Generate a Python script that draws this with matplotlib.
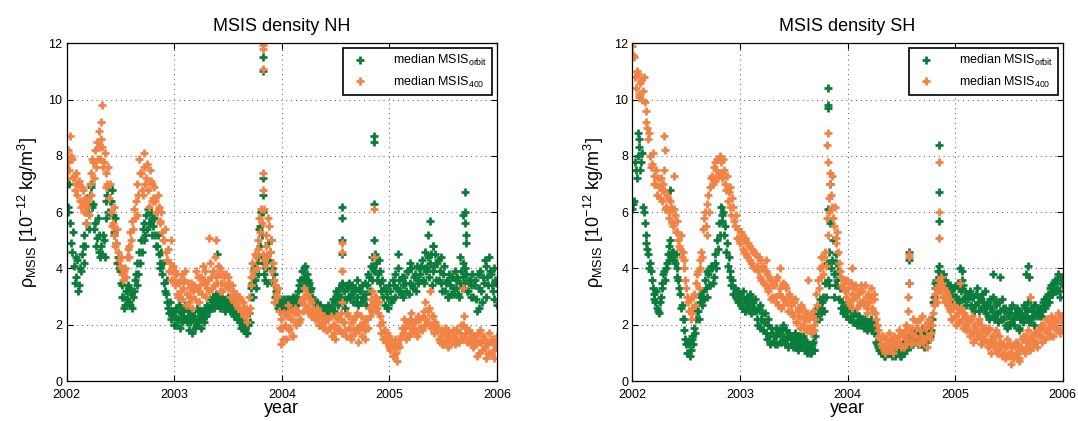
import numpy as np
import matplotlib
matplotlib.use("Agg")
import matplotlib.pyplot as plt

plt.rcParams['font.family'] = ['Liberation Sans', 'DejaVu Sans']
plt.rcParams['mathtext.default'] = 'regular'

# sampling: two readings per 6-day window from 1 Jan 2002 (set a at day 0, set b at day 3)
sample_days = np.arange(0, 1461, 6)
years_a = 2002 + sample_days / 365.25
years_b = 2002 + (sample_days + 3) / 365.25

# ---- NH, median MSIS at orbit (green) ----
nh_orbit_a = [
    7.8, 6.2, 5.6, 4.6, 4.1, 3.7, 4.3, 3.4, 3.9, 4.8,
    5.2, 5.6, 6.2, 6.6, 6.9, 6.3, 5.6, 5.1, 4.6, 4.4,
    4.5, 5.0, 5.8, 6.6, 6.9, 6.4, 5.9, 5.3, 4.9, 4.4,
    3.9, 3.4, 3.0, 2.7, 2.9, 3.3, 2.7, 2.6, 3.2, 3.8,
    4.2, 4.6, 5.0, 5.4, 5.6, 5.9, 6.1, 5.6, 5.8, 5.5,
    5.2, 4.8, 4.5, 4.2, 3.8, 3.5, 3.1, 2.8, 2.4, 2.2,
    2.3, 2.0, 2.6, 2.2, 1.9, 2.5, 2.3, 2.7, 2.1, 1.8,
    2.1, 1.7, 2.3, 2.0, 2.5, 2.2, 1.9, 2.4, 2.6, 2.3,
    2.6, 2.9, 2.7, 3.0, 2.8, 3.1, 2.9, 2.7, 3.0, 2.8,
    2.9, 2.8, 2.7, 2.6, 2.5, 2.4, 2.3, 2.2, 2.1, 2.0,
    1.9, 1.8, 1.7, 2.4, 3.0, 3.5, 4.0, 3.3, 4.4, 5.4,
    6.0, 4.2, 3.6, 4.4, 4.9, 4.6, 4.0, 3.4, 3.0, 2.8,
    2.7, 2.8, 2.6, 2.9, 2.7, 2.8, 2.9, 2.7, 3.0, 2.8,
    3.0, 3.2, 3.6, 3.9, 3.7, 4.1, 3.8, 3.5, 3.3, 3.0,
    2.8, 2.6, 2.7, 2.5, 2.6, 2.4, 2.5, 2.6, 2.7, 2.5,
    2.6, 2.8, 2.9, 3.1, 3.3, 3.0, 3.4, 3.2, 2.9, 3.3,
    3.5, 3.1, 2.8, 3.3, 3.0, 2.7, 3.2, 3.4, 2.9, 3.1,
    3.4, 3.7, 4.1, 4.4, 3.9, 4.2, 3.8, 3.5, 3.2, 3.0,
    2.7, 3.0, 2.6, 3.2, 2.9, 3.4, 3.8, 3.3, 3.6, 3.1,
    3.4, 3.7, 3.2, 3.9, 3.5, 4.0, 3.3, 3.8, 4.1, 3.6,
    3.8, 4.3, 3.5, 4.6, 4.0, 3.7, 4.5, 4.8, 4.1, 3.6,
    4.3, 3.9, 3.5, 3.8, 3.2, 3.6, 3.0, 3.4, 3.7, 3.1,
    3.3, 3.7, 3.0, 3.9, 4.2, 3.5, 3.8, 3.2, 3.6, 3.4,
    3.0, 3.6, 2.5, 3.3, 3.9, 2.8, 3.5, 4.1, 3.7, 4.4,
    3.8, 3.2, 2.9, 3.5,
]
nh_orbit_b = [
    6.0, 7.0, 4.9, 5.3, 3.5, 4.4, 3.2, 4.0, 4.5, 4.2,
    4.8, 6.0, 5.4, 7.0, 6.2, 5.4, 4.8, 5.8, 5.2, 4.8,
    5.2, 4.4, 6.4, 6.0, 6.4, 6.8, 5.2, 5.8, 4.2, 4.0,
    3.5, 3.0, 2.6, 3.2, 3.4, 2.8, 3.1, 3.0, 3.6, 3.4,
    3.8, 4.2, 4.6, 5.0, 5.2, 5.4, 5.6, 6.0, 5.2, 5.8,
    4.8, 5.2, 4.0, 4.6, 4.2, 3.2, 3.6, 2.6, 2.8, 2.5,
    2.0, 2.5, 2.2, 2.7, 2.4, 2.1, 2.6, 2.2, 2.5, 2.3,
    2.4, 2.2, 1.9, 2.6, 2.1, 2.5, 2.3, 2.1, 2.3, 2.7,
    2.5, 2.7, 3.0, 2.6, 3.1, 2.7, 2.6, 2.9, 2.7, 2.5,
    2.6, 3.0, 2.5, 2.8, 2.3, 2.6, 2.2, 2.4, 1.9, 2.2,
    2.1, 1.7, 2.0, 2.1, 3.3, 3.0, 3.6, 4.2, 3.8, 4.8,
    5.2, 3.8, 4.0, 3.5, 4.3, 5.0, 3.6, 3.8, 3.2, 2.6,
    2.5, 2.9, 2.7, 2.6, 2.9, 2.6, 2.7, 2.9, 2.6, 2.7,
    2.8, 3.4, 3.3, 3.6, 4.0, 3.5, 3.6, 3.2, 2.9, 2.8,
    2.5, 2.8, 2.4, 2.7, 2.5, 2.6, 2.4, 2.5, 2.4, 2.6,
    2.9, 2.5, 3.2, 2.7, 2.9, 3.5, 2.8, 2.6, 3.4, 3.0,
    3.0, 3.4, 3.2, 2.8, 3.6, 3.3, 2.8, 3.0, 3.5, 2.7,
    3.8, 3.2, 3.6, 4.0, 4.5, 3.6, 4.3, 3.9, 3.6, 3.3,
    3.2, 2.6, 3.4, 2.8, 3.6, 3.0, 3.3, 4.0, 3.2, 3.7,
    3.0, 3.5, 3.9, 3.1, 4.2, 3.4, 3.7, 3.2, 3.5, 4.0,
    4.1, 3.6, 4.0, 3.9, 4.4, 4.2, 3.4, 3.9, 4.5, 4.2,
    3.6, 4.4, 3.2, 4.1, 3.5, 3.0, 3.8, 3.1, 3.3, 3.9,
    3.6, 3.1, 3.5, 3.3, 3.7, 4.0, 3.2, 3.6, 3.0, 3.8,
    3.4, 2.9, 3.8, 2.6, 3.2, 3.7, 4.3, 3.0, 3.4, 3.9,
    3.4, 4.0, 3.6, 2.7,
]

# ---- NH, median MSIS at 400 km (orange) ----
nh_400_a = [
    7.2, 8.2, 8.7, 7.9, 7.3, 7.0, 6.6, 7.1, 6.2, 6.8,
    6.0, 5.6, 6.4, 7.0, 7.4, 7.8, 8.2, 8.5, 8.9, 7.9,
    8.3, 7.8, 7.4, 7.0, 6.5, 6.0, 5.6, 5.2, 4.9, 4.6,
    4.1, 3.8, 3.6, 4.0, 4.4, 4.8, 5.3, 5.7, 6.1, 6.4,
    7.0, 7.9, 7.4, 6.6, 8.1, 7.2, 6.8, 7.5, 7.0, 6.5,
    6.4, 6.0, 6.2, 5.7, 5.3, 5.0, 4.6, 4.3, 3.9, 3.6,
    4.1, 3.4, 3.8, 3.0, 3.6, 2.9, 3.3, 3.9, 3.1, 2.8,
    3.0, 2.6, 3.4, 3.9, 3.2, 2.8, 3.7, 4.1, 3.5, 3.0,
    3.6, 4.2, 3.3, 3.9, 4.4, 3.5, 3.8, 4.0, 3.2, 3.7,
    3.8, 3.3, 3.5, 3.0, 3.2, 2.8, 3.1, 2.6, 2.9, 2.5,
    2.6, 2.3, 2.1, 3.0, 3.7, 4.2, 3.9, 4.4, 5.0, 5.8,
    6.1, 4.5, 4.1, 5.2, 5.8, 4.6, 3.9, 2.8, 3.4, 3.0,
    2.5, 1.3, 1.9, 2.4, 1.5, 2.7, 1.8, 2.2, 1.6, 2.6,
    2.0, 2.5, 2.2, 2.9, 3.3, 2.7, 3.1, 2.4, 2.8, 2.3,
    2.5, 2.2, 2.4, 2.0, 2.3, 1.9, 2.1, 1.8, 2.2, 1.9,
    1.6, 2.0, 1.5, 2.2, 1.8, 2.4, 2.8, 2.1, 1.6, 2.3,
    1.9, 1.5, 2.2, 1.7, 2.4, 1.4, 2.0, 1.6, 2.1, 1.8,
    2.2, 2.6, 2.9, 3.2, 2.7, 3.0, 2.4, 2.0, 1.7, 1.5,
    1.8, 1.4, 1.6, 1.1, 1.3, 0.9, 1.5, 0.7, 1.2, 1.6,
    1.9, 2.2, 1.5, 2.0, 1.7, 2.4, 1.8, 2.1, 1.6, 2.3,
    2.2, 1.8, 2.5, 2.8, 2.1, 2.6, 1.9, 2.3, 1.7, 2.0,
    1.8, 1.4, 1.6, 1.3, 1.9, 1.5, 1.2, 1.7, 1.4, 1.6,
    1.5, 1.8, 1.4, 2.0, 1.6, 2.3, 1.9, 1.5, 1.7, 1.3,
    1.2, 1.6, 0.9, 1.4, 1.8, 1.1, 1.5, 0.8, 1.3, 1.7,
    1.0, 1.4, 0.8, 1.2,
]
nh_400_b = [
    7.8, 7.5, 8.0, 7.2, 6.8, 7.4, 7.0, 6.4, 6.9, 6.3,
    6.5, 6.2, 5.9, 6.6, 7.9, 7.2, 7.6, 7.9, 8.3, 8.6,
    7.6, 8.1, 6.9, 7.6, 7.0, 5.5, 6.2, 4.8, 5.4, 4.3,
    4.4, 4.0, 3.9, 3.7, 4.7, 4.4, 5.0, 5.4, 5.8, 5.9,
    6.6, 7.4, 6.8, 7.6, 7.0, 7.7, 6.2, 7.1, 6.4, 6.9,
    6.0, 6.6, 5.6, 6.0, 5.0, 5.4, 4.3, 4.7, 4.2, 3.9,
    3.6, 3.9, 3.1, 3.5, 3.2, 3.8, 3.6, 2.7, 3.5, 3.3,
    3.5, 3.2, 2.9, 3.3, 3.7, 3.4, 3.1, 3.6, 3.9, 3.3,
    3.2, 3.7, 3.9, 3.4, 3.7, 4.1, 3.2, 3.5, 3.8, 3.4,
    3.4, 3.7, 3.0, 3.4, 2.8, 3.1, 2.7, 3.0, 2.5, 2.8,
    2.3, 2.6, 2.4, 2.6, 3.4, 3.9, 4.5, 4.0, 4.7, 5.3,
    5.6, 4.3, 4.8, 4.4, 5.5, 5.0, 4.2, 3.6, 3.1, 3.3,
    1.9, 2.2, 1.5, 2.0, 2.3, 1.9, 2.5, 1.6, 2.4, 2.1,
    2.4, 2.1, 2.8, 2.5, 3.0, 3.1, 2.6, 2.9, 2.3, 2.6,
    2.2, 2.6, 2.0, 2.4, 2.1, 2.3, 1.8, 2.2, 1.9, 2.3,
    2.0, 1.7, 2.3, 1.9, 2.2, 1.7, 2.1, 1.8, 2.4, 1.9,
    1.6, 2.1, 1.8, 2.3, 1.9, 1.8, 2.3, 2.0, 1.5, 2.2,
    1.9, 2.3, 2.5, 2.8, 3.0, 2.6, 2.8, 2.3, 2.1, 1.8,
    1.4, 1.7, 1.2, 1.5, 0.9, 1.2, 1.0, 1.3, 1.5, 1.9,
    1.7, 1.9, 2.1, 1.6, 2.2, 1.9, 2.1, 1.7, 2.2, 1.9,
    1.9, 2.3, 2.0, 2.2, 2.5, 2.0, 2.3, 2.0, 2.1, 1.8,
    1.5, 1.8, 1.3, 1.7, 1.4, 1.8, 1.6, 1.4, 1.8, 1.3,
    1.8, 1.4, 1.7, 1.5, 2.0, 1.7, 1.4, 1.8, 1.4, 1.6,
    1.5, 1.3, 1.7, 1.0, 1.4, 1.6, 1.2, 1.4, 1.0, 1.4,
    1.5, 1.1, 1.3, 1.6,
]

# ---- SH, median MSIS at orbit (green) ----
sh_orbit_a = [
    6.1, 6.4, 7.5, 8.0, 8.6, 7.8, 6.2, 5.6, 4.9, 4.5,
    4.2, 3.6, 3.1, 2.8, 2.6, 2.4, 3.0, 3.5, 3.9, 4.0,
    4.5, 4.8, 4.4, 4.6, 4.2, 4.0, 3.6, 3.1, 2.7, 2.2,
    1.5, 1.0, 1.3, 1.1, 1.6, 1.9, 2.2, 2.5, 2.8, 3.0,
    3.2, 3.6, 3.0, 3.8, 3.4, 4.0, 3.7, 4.5, 5.0, 5.6,
    6.2, 5.7, 5.2, 4.6, 4.1, 3.7, 3.4, 3.1, 3.3, 2.9,
    2.8, 3.1, 2.6, 2.9, 2.5, 3.0, 2.7, 2.4, 2.8, 2.6,
    2.5, 2.0, 2.7, 2.2, 1.8, 2.4, 1.5, 2.0, 1.3, 1.7,
    1.6, 1.9, 1.3, 1.7, 1.4, 2.0, 1.5, 1.8, 1.2, 1.6,
    1.5, 1.2, 1.7, 1.4, 1.1, 1.6, 1.3, 1.5, 1.2, 1.0,
    1.2, 1.0, 1.4, 1.1, 2.2, 2.6, 2.9, 2.4, 3.0, 3.5,
    4.2, 3.4, 5.6, 4.3, 3.8, 4.5, 3.6, 2.9, 2.6, 2.4,
    2.6, 2.3, 2.7, 2.2, 2.5, 2.1, 2.4, 2.0, 2.3, 2.1,
    2.2, 1.9, 2.1, 1.8, 2.0, 2.2, 1.9, 1.7, 1.4, 1.2,
    1.1, 1.0, 1.2, 0.9, 1.1, 1.3, 1.0, 0.9, 1.2, 1.0,
    1.0, 1.2, 0.9, 1.3, 1.1, 1.5, 1.4, 1.2, 1.7, 1.5,
    1.4, 1.8, 1.3, 1.6, 1.9, 1.2, 1.7, 1.5, 2.0, 1.8,
    2.8, 3.3, 3.6, 3.9, 3.7, 3.5, 3.8, 3.6, 3.4, 3.2,
    3.1, 2.9, 3.3, 3.0, 3.5, 2.8, 3.2, 3.4, 3.0, 2.7,
    2.9, 3.2, 2.6, 3.0, 2.7, 3.3, 2.5, 2.9, 3.1, 2.6,
    2.4, 2.8, 2.2, 2.6, 3.0, 2.3, 2.7, 2.1, 2.5, 2.9,
    2.2, 2.6, 1.9, 2.4, 2.1, 2.7, 2.0, 2.3, 2.5, 1.8,
    2.4, 2.1, 2.6, 2.3, 2.8, 2.2, 2.5, 2.0, 2.7, 2.4,
    2.3, 2.6, 2.5, 2.9, 2.7, 3.1, 3.0, 3.4, 3.2, 3.6,
    3.3, 3.8, 3.0, 3.5,
]
sh_orbit_b = [
    6.3, 7.8, 7.2, 8.3, 7.5, 8.1, 6.0, 5.2, 4.7, 4.0,
    3.9, 3.3, 2.9, 3.2, 2.5, 2.8, 3.3, 3.8, 3.6, 4.2,
    4.3, 5.0, 4.6, 4.3, 4.5, 3.7, 3.3, 2.6, 2.2, 1.8,
    1.3, 1.4, 0.9, 1.5, 1.3, 1.7, 2.5, 2.2, 3.1, 2.7,
    2.9, 3.3, 3.9, 3.4, 4.1, 3.5, 4.2, 4.0, 4.7, 5.2,
    5.9, 6.0, 5.5, 4.9, 4.4, 3.9, 3.6, 3.3, 3.0, 3.2,
    3.0, 2.7, 3.2, 2.5, 2.8, 2.6, 3.1, 2.9, 2.5, 2.9,
    2.2, 2.6, 1.9, 2.4, 2.1, 1.7, 2.2, 1.6, 1.9, 1.4,
    1.3, 1.6, 1.8, 1.4, 1.9, 1.6, 1.3, 1.5, 1.7, 1.3,
    1.3, 1.5, 1.2, 1.6, 1.4, 1.2, 1.6, 1.1, 1.4, 1.3,
    1.0, 1.3, 1.1, 1.6, 2.4, 2.2, 2.6, 2.8, 2.5, 3.0,
    3.6, 4.6, 4.0, 5.0, 3.4, 4.2, 3.9, 3.3, 2.8, 2.5,
    2.4, 2.6, 2.2, 2.5, 2.3, 2.4, 2.1, 2.3, 2.0, 2.2,
    2.0, 2.2, 1.9, 2.1, 1.9, 1.8, 2.1, 1.9, 1.3, 1.1,
    1.0, 1.2, 0.9, 1.1, 1.0, 1.0, 1.2, 1.1, 0.9, 1.1,
    1.1, 0.9, 1.1, 1.0, 1.3, 1.2, 1.6, 1.4, 1.3, 1.6,
    1.6, 1.3, 1.7, 1.4, 1.5, 1.8, 1.4, 1.9, 1.6, 2.2,
    3.0, 3.5, 3.4, 3.7, 3.5, 3.8, 3.4, 3.5, 3.2, 3.4,
    2.9, 3.3, 3.0, 3.4, 2.9, 3.3, 3.6, 2.9, 3.2, 3.1,
    3.1, 2.7, 3.0, 2.5, 3.1, 2.8, 3.0, 2.6, 2.8, 3.2,
    2.7, 2.3, 2.9, 2.5, 2.2, 2.8, 2.4, 2.8, 2.2, 2.6,
    2.5, 2.0, 2.3, 2.0, 2.6, 2.2, 2.4, 2.6, 1.9, 2.2,
    2.2, 2.7, 2.3, 2.5, 2.1, 2.6, 2.3, 2.7, 2.3, 2.5,
    2.6, 2.3, 2.8, 2.6, 3.0, 2.8, 3.3, 3.1, 3.5, 3.2,
    3.6, 3.2, 3.7, 3.4,
]

# ---- SH, median MSIS at 400 km (orange) ----
sh_400_a = [
    11.9, 11.5, 10.4, 10.9, 10.1, 10.7, 10.3, 9.9, 9.2, 8.6,
    8.0, 7.7, 7.3, 7.0, 6.6, 6.9, 7.2, 6.4, 6.8, 6.2,
    6.5, 5.8, 6.2, 5.5, 5.9, 5.3, 5.0, 4.7, 4.4, 4.0,
    3.6, 3.0, 2.5, 2.2, 2.6, 3.1, 3.5, 3.9, 4.3, 4.6,
    5.4, 6.0, 5.2, 6.6, 6.9, 7.3, 7.6, 7.1, 7.9, 7.4,
    7.8, 7.2, 7.5, 6.8, 6.4, 6.9, 5.9, 6.2, 5.5, 5.1,
    5.4, 4.9, 5.2, 4.6, 5.0, 4.4, 4.8, 4.2, 4.6, 4.0,
    4.5, 3.9, 4.3, 3.6, 4.1, 3.4, 3.8, 3.2, 3.6, 3.0,
    3.4, 2.8, 3.7, 3.1, 2.6, 3.5, 2.9, 3.3, 2.5, 3.0,
    2.7, 2.3, 2.9, 2.1, 2.5, 1.9, 2.6, 2.2, 1.8, 2.4,
    2.2, 1.7, 2.5, 2.0, 3.1, 3.6, 4.0, 4.4, 3.8, 4.6,
    5.8, 6.5, 7.0, 6.2, 5.5, 4.9, 5.3, 4.2, 3.7, 3.3,
    3.5, 3.0, 3.3, 2.7, 3.1, 2.9, 3.4, 2.6, 3.2, 2.8,
    3.2, 2.7, 3.0, 2.4, 2.8, 3.3, 2.5, 2.9, 2.2, 1.8,
    1.5, 1.2, 1.6, 1.0, 1.4, 1.7, 1.1, 1.3, 1.6, 1.2,
    1.4, 1.8, 1.2, 1.6, 1.3, 2.0, 2.5, 1.7, 1.4, 2.2,
    1.6, 2.1, 1.3, 1.8, 2.3, 1.5, 1.9, 1.2, 2.2, 1.7,
    2.4, 2.9, 3.3, 3.6, 3.2, 3.5, 3.0, 2.8, 3.1, 2.6,
    2.5, 2.2, 2.7, 2.0, 2.4, 2.1, 2.6, 1.9, 2.3, 1.8,
    2.1, 1.6, 2.3, 1.4, 1.9, 1.7, 2.2, 1.3, 1.8, 1.5,
    1.7, 1.2, 1.9, 1.0, 1.5, 1.3, 1.8, 1.1, 1.4, 0.9,
    1.3, 0.8, 1.5, 1.0, 0.6, 1.2, 0.9, 1.4, 1.1, 0.8,
    1.2, 1.6, 1.0, 1.4, 1.8, 1.1, 1.5, 1.3, 1.7, 1.2,
    1.6, 2.0, 1.4, 1.8, 2.2, 1.7, 1.9, 2.3, 1.6, 2.1,
    1.9, 2.4, 1.7, 2.1,
]
sh_400_b = [
    11.6, 10.8, 11.0, 10.2, 10.6, 10.0, 10.8, 9.6, 9.0, 8.8,
    7.6, 8.1, 7.0, 7.5, 7.2, 6.5, 6.8, 7.0, 6.1, 6.6,
    6.0, 6.4, 5.6, 6.1, 5.3, 5.7, 4.8, 5.2, 4.6, 4.3,
    3.3, 2.8, 2.9, 2.4, 3.0, 2.7, 3.8, 3.3, 4.0, 4.4,
    5.8, 5.5, 6.3, 6.0, 7.2, 7.0, 7.8, 7.5, 7.3, 8.0,
    7.4, 7.9, 7.0, 7.3, 6.7, 6.2, 6.5, 5.7, 5.9, 5.4,
    5.0, 5.3, 4.7, 5.1, 4.5, 4.9, 4.3, 4.7, 4.1, 4.5,
    4.1, 4.4, 3.7, 4.0, 3.5, 3.9, 3.3, 3.7, 2.9, 3.4,
    3.0, 3.6, 2.7, 3.3, 3.0, 2.7, 3.4, 2.8, 3.1, 2.7,
    2.4, 2.8, 2.1, 2.6, 2.3, 2.7, 2.0, 2.4, 2.2, 1.9,
    1.9, 2.3, 1.8, 2.2, 2.7, 3.3, 3.7, 4.1, 4.4, 4.1,
    5.2, 6.0, 6.6, 5.8, 6.2, 5.1, 4.6, 3.9, 3.4, 3.6,
    3.2, 3.6, 2.8, 3.5, 2.6, 3.3, 3.0, 3.1, 2.7, 3.4,
    2.8, 3.4, 2.6, 3.1, 3.0, 2.6, 3.1, 2.4, 2.0, 1.6,
    1.3, 1.6, 1.1, 1.5, 1.2, 1.3, 1.5, 1.0, 1.3, 1.5,
    1.6, 1.3, 1.7, 1.2, 1.8, 1.5, 1.9, 1.3, 1.9, 1.6,
    1.9, 1.4, 2.2, 1.6, 1.4, 2.0, 1.6, 2.1, 1.5, 2.0,
    2.7, 3.1, 2.8, 3.4, 3.7, 3.0, 3.3, 3.2, 2.7, 2.9,
    2.2, 2.6, 2.3, 2.6, 2.1, 2.5, 2.2, 2.4, 2.0, 2.2,
    1.8, 2.2, 1.7, 2.0, 1.5, 2.1, 1.6, 2.0, 1.4, 1.9,
    1.4, 1.8, 1.4, 1.6, 1.2, 1.7, 1.0, 1.6, 1.2, 1.3,
    1.0, 1.2, 0.9, 1.3, 1.0, 0.8, 1.3, 1.0, 0.7, 1.2,
    1.5, 1.1, 1.6, 1.2, 1.4, 1.6, 1.2, 1.7, 1.4, 1.8,
    1.9, 1.6, 2.0, 1.5, 1.8, 2.1, 1.6, 2.0, 2.2, 1.8,
    2.2, 1.8, 2.3, 1.9,
]

# ---- storm days (isolated high points) ----
nh_orbit_storm_t = [2002.00, 2003.40, 2003.80, 2003.82, 2003.82, 2003.82, 2003.82, 2003.82,
                    2004.56, 2004.56, 2004.56, 2004.56, 2004.86, 2004.86, 2004.86, 2004.86,
                    2005.08, 2005.36, 2005.38, 2005.40, 2005.66, 2005.68, 2005.70, 2005.70,
                    2005.70, 2005.71, 2005.71]
nh_orbit_storm_v = [7.9, 4.5, 5.5, 6.0, 6.6, 7.2, 11.0, 11.5,
                    4.5, 5.0, 5.8, 6.2, 5.0, 6.3, 8.5, 8.7,
                    4.5, 5.2, 5.7, 4.8, 4.4, 5.9, 6.0, 5.6,
                    6.7, 5.2, 4.9]
nh_400_storm_t = [2002.32, 2002.33, 2002.97, 2003.32, 2003.39, 2003.82, 2003.82, 2003.83,
                  2003.82, 2003.82, 2003.82, 2004.56, 2004.56, 2004.56, 2004.86, 2004.86,
                  2005.38, 2005.68]
nh_400_storm_v = [9.2, 9.8, 5.0, 5.1, 5.0, 6.8, 7.4, 6.1,
                  11.1, 11.8, 11.95, 3.9, 4.6, 4.9, 4.4, 6.1,
                  3.2, 3.3]
sh_orbit_storm_t = [2002.05, 2002.35, 2003.82, 2003.82, 2003.82, 2003.84, 2003.87, 2003.82,
                    2004.57, 2004.57, 2004.57, 2004.85, 2004.85, 2004.85, 2004.85,
                    2005.05, 2005.06, 2005.35, 2005.42, 2005.66, 2005.68, 2005.69]
sh_orbit_storm_v = [8.8, 6.8, 9.7, 9.8, 10.4, 7.0, 3.0, 6.1,
                    3.5, 4.3, 4.6, 4.1, 5.7, 6.7, 8.4,
                    4.0, 3.9, 3.8, 3.7, 3.8, 4.1, 3.7]
sh_400_storm_t = [2002.29, 2002.29, 2002.30, 2002.39, 2003.24, 2003.37, 2003.63, 2003.81,
                  2003.82, 2003.82, 2003.84, 2003.86, 2004.04, 2004.56, 2004.57, 2004.57,
                  2004.57, 2004.85, 2004.85, 2004.85, 2005.05, 2005.70]
sh_400_storm_v = [7.5, 8.7, 8.2, 7.3, 4.3, 4.0, 3.6, 8.4,
                  8.8, 7.8, 7.4, 7.3, 4.0, 3.0, 3.5, 4.4,
                  4.5, 5.1, 6.0, 7.8, 3.5, 3.0]

GREEN = '#0b7d3b'
ORANGE = '#f28244'

fig = plt.figure(figsize=(10.78, 4.21), dpi=100)
ax_nh = fig.add_axes([0.0619, 0.095, 0.3992, 0.802])
ax_sh = fig.add_axes([0.5866, 0.095, 0.3992, 0.802])

panels = [
    (ax_nh, 'MSIS density NH', nh_orbit_a, nh_orbit_b, nh_400_a, nh_400_b,
     nh_orbit_storm_t, nh_orbit_storm_v, nh_400_storm_t, nh_400_storm_v),
    (ax_sh, 'MSIS density SH', sh_orbit_a, sh_orbit_b, sh_400_a, sh_400_b,
     sh_orbit_storm_t, sh_orbit_storm_v, sh_400_storm_t, sh_400_storm_v),
]

mk = dict(linestyle='none', marker='+', markersize=6.2, markeredgewidth=2.0)

for ax, title, orb_a, orb_b, alt_a, alt_b, go_t, go_v, or_t, or_v in panels:
    t_g = np.concatenate([years_a, years_b, go_t])
    v_g = np.concatenate([orb_a, orb_b, go_v])
    t_o = np.concatenate([years_a, years_b, or_t])
    v_o = np.concatenate([alt_a, alt_b, or_v])
    ax.plot(t_g, v_g, color=GREEN, label='median MSIS$_{orbit}$', **mk)
    ax.plot(t_o, v_o, color=ORANGE, label='median MSIS$_{400}$', **mk)

    ax.set_xlim(2002, 2006)
    ax.set_ylim(0, 12)
    ax.set_xticks([2002, 2003, 2004, 2005, 2006])
    ax.set_xticklabels(['2002', '2003', '2004', '2005', '2006'])
    ax.set_yticks(range(0, 13, 2))
    ax.tick_params(direction='in', top=True, right=True, labelsize=9, length=4)
    ax.tick_params(axis='x', pad=6)
    ax.tick_params(axis='y', pad=3)
    ax.grid(True, linestyle=(0, (1, 4)), color='#555555', linewidth=0.7)
    for sp in ax.spines.values():
        sp.set_linewidth(0.9)
    ax.set_title(title, fontsize=13, pad=9)
    ax.set_xlabel('year', fontsize=13, labelpad=-1)
    ax.set_ylabel(r'$\rho_{MSIS}$ [10$^{-12}$ kg/m$^3$]', fontsize=13, labelpad=6)
    leg = ax.legend(loc='upper right', fontsize=9, frameon=True, fancybox=False,
                    edgecolor='black', framealpha=1, borderaxespad=0.4,
                    handletextpad=1.6, markerscale=1.0)
    leg.get_frame().set_linewidth(1.2)

fig.savefig('out.png', dpi=100)
